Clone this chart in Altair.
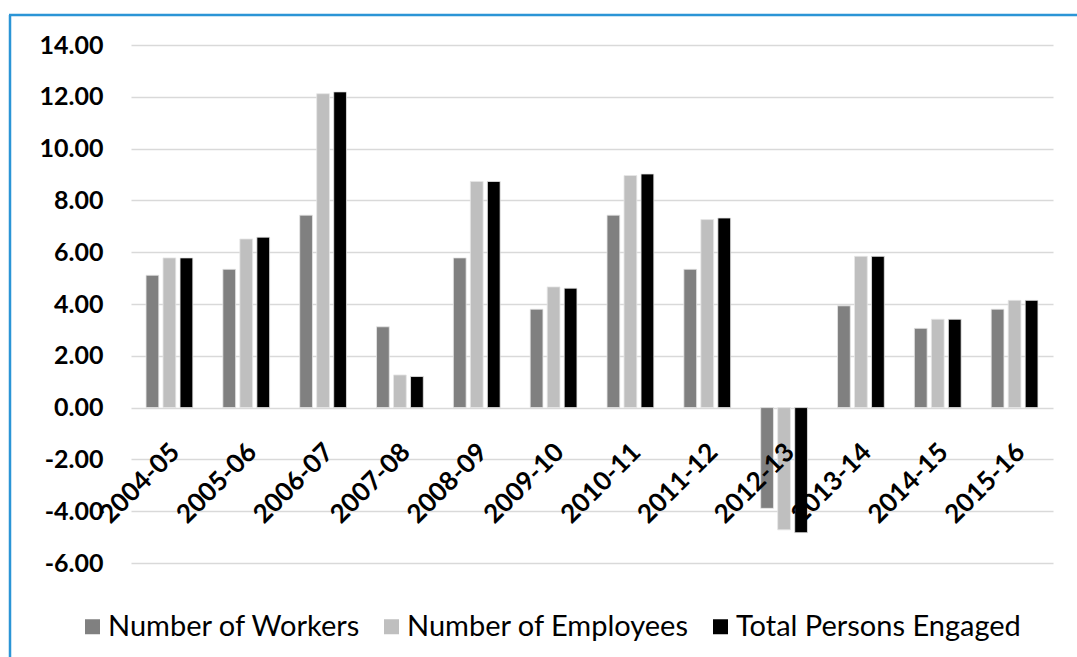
import altair as alt
import pandas as pd

years = ["2004-05", "2005-06", "2006-07", "2007-08", "2008-09", "2009-10",
         "2010-11", "2011-12", "2012-13", "2013-14", "2014-15", "2015-16"]
workers = [5.11, 5.34, 7.43, 3.12, 5.78, 3.80, 7.43, 5.34, -3.89, 3.93, 3.06, 3.80]
employees = [5.78, 6.51, 12.12, 1.26, 8.73, 4.66, 8.96, 7.26, -4.72, 5.84, 3.41, 4.14]
total = [5.78, 6.58, 12.19, 1.20, 8.73, 4.61, 9.02, 7.32, -4.83, 5.84, 3.41, 4.14]
series = ["Number of Workers", "Number of Employees", "Total Persons Engaged"]
colors = ["#808080", "#bfbfbf", "#000000"]
y_ticks = [-6, -4, -2, 0, 2, 4, 6, 8, 10, 12, 14]

rows = []
for i, y in enumerate(years):
    for s, vals in zip(series, [workers, employees, total]):
        rows.append({"year": y, "series": s, "value": vals[i]})
df = pd.DataFrame(rows)

W, H = 922, 518
y_min, y_max = -6, 14
zero_offset = -H * (0 - y_min) / (y_max - y_min)

FONT = "Lato"

bars = alt.Chart(df).mark_bar(stroke="#e6e6e6", strokeWidth=0.8).encode(
    x=alt.X("year:N", sort=years, title=None,
            scale=alt.Scale(paddingInner=0.336, paddingOuter=0.168),
            axis=alt.Axis(labelAngle=-45, domain=False, ticks=False, zindex=1,
                          offset=zero_offset, labelPadding=31, labelOffset=-3,
                          labelFont=FONT, labelFontSize=26, labelFontWeight="bold",
                          labelColor="#000000", grid=False)),
    xOffset=alt.XOffset("series:N", sort=series,
                        scale=alt.Scale(paddingInner=0.25, paddingOuter=0.125)),
    y=alt.Y("value:Q", title=None,
            scale=alt.Scale(domain=[y_min, y_max], nice=False, zero=False),
            axis=alt.Axis(values=y_ticks, domain=False, ticks=False,
                          labelExpr="(datum.value < 0 ? '-' : '') + format(abs(datum.value), '.2f')",
                          labelPadding=28, labelFont=FONT, labelFontSize=25,
                          labelFontWeight="bold", labelColor="#000000",
                          gridColor="#d9d9d9", gridWidth=1.5)),
    color=alt.Color("series:N", sort=series,
                    scale=alt.Scale(domain=series, range=colors),
                    legend=alt.Legend(title=None, orient="none", direction="horizontal",
                                      legendX=-53, legendY=567, padding=0,
                                      symbolType="square", symbolSize=225,
                                      symbolStrokeWidth=0,
                                      labelFont=FONT, labelFontSize=29,
                                      labelColor="#000000", labelOffset=1,
                                      columnPadding=16, labelLimit=400)),
)

border_df = pd.DataFrame({"k": [0]})
left_line = alt.Chart(border_df).mark_rule(color="#2b95d6", strokeWidth=2.5).encode(
    x=alt.value(-121), y=alt.value(-30), y2=alt.value(700))
top_line = alt.Chart(border_df).mark_rule(color="#2b95d6", strokeWidth=2.5).encode(
    x=alt.value(-122), x2=alt.value(1000), y=alt.value(-30))

chart = alt.layer(bars, left_line, top_line).properties(
    width=W, height=H,
    background="white",
    autosize=alt.AutoSizeParams(type="none"),
    padding={"left": 131, "top": 45, "right": 24, "bottom": 94},
).configure_view(strokeWidth=0)

chart.save("out.html", embed_options={"renderer": "svg", "actions": False})
